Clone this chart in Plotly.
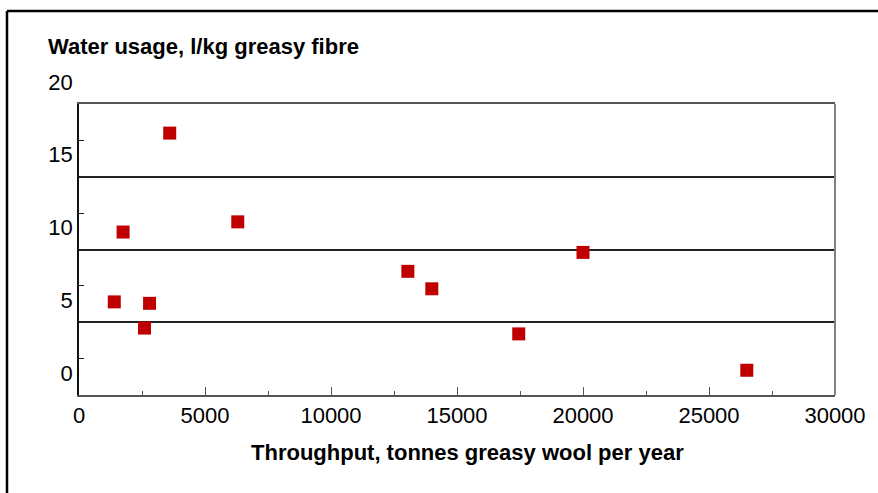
import plotly.graph_objects as go

# Wool scouring plants: annual throughput vs. water usage
throughput = [1400, 1750, 2600, 2800, 3600, 6300, 13050, 14000, 17450, 20000, 26500]
water_usage = [6.4, 11.2, 4.6, 6.3, 18.0, 11.9, 8.5, 7.3, 4.2, 9.8, 1.7]

x_ticks = [0, 5000, 10000, 15000, 20000, 25000, 30000]
y_ticks = [0, 5, 10, 15, 20]

W, H = 878, 493
L, R, T, B = 79, 43, 104, 98
PW, PH = W - L - R, H - T - B

def px(x):
    return (x - L) / PW

def py(y):
    return (H - B - y) / PH

FONT = "Arial, Liberation Sans, sans-serif"
FS = 22

fig = go.Figure(
    go.Scatter(
        x=throughput,
        y=water_usage,
        mode="markers",
        marker=dict(symbol="square", size=13, color="#C00000", line=dict(width=0)),
        showlegend=False,
    )
)

fig.update_layout(
    width=W,
    height=H,
    margin=dict(l=L, r=R, t=T, b=B),
    paper_bgcolor="white",
    plot_bgcolor="white",
    font=dict(family=FONT, size=FS, color="black"),
)

fig.update_xaxes(
    range=[0, 30000],
    tickvals=x_ticks,
    ticktext=[str(v) for v in x_ticks],
    ticks="inside",
    ticklen=8,
    tickcolor="#555",
    tickwidth=1,
    minor=dict(ticks="inside", ticklen=4, tickcolor="#555", dtick=2500, tick0=2500, showgrid=False),
    showline=True,
    linecolor="#555",
    linewidth=1.5,
    mirror=True,
    showgrid=False,
    zeroline=False,
    tickfont=dict(size=FS),
)

fig.update_yaxes(
    range=[0, 20],
    tickvals=y_ticks,
    ticktext=[str(v) for v in y_ticks],
    ticks="inside",
    ticklen=0,
    minor=dict(ticks="inside", ticklen=5, tickcolor="#222", dtick=2.5, tick0=2.5, showgrid=False),
    ticklabelshift=-22,
    showline=True,
    linecolor="#111",
    linewidth=1.5,
    showgrid=True,
    gridcolor="#222",
    gridwidth=1.5,
    zeroline=False,
    tickfont=dict(size=FS),
)

# right frame of the plot area
fig.add_shape(type="line", xref="paper", yref="paper", x0=1, x1=1, y0=0, y1=1,
              line=dict(color="#808080", width=2))

# outer border of the figure (top and left edges)
fig.add_shape(type="line", xref="paper", yref="paper", x0=px(7), x1=px(W + 5), y0=py(11), y1=py(11),
              line=dict(color="black", width=2.5))
fig.add_shape(type="line", xref="paper", yref="paper", x0=px(7), x1=px(7), y0=py(11), y1=py(H + 5),
              line=dict(color="black", width=2.5))

fig.add_annotation(text="<b>Water usage, l/kg greasy fibre</b>", xref="paper", yref="paper",
                   x=px(46), y=py(46), xanchor="left", yanchor="middle", showarrow=False,
                   font=dict(family=FONT, size=FS, color="black"))
fig.add_annotation(text="<b>Throughput, tonnes greasy wool per year</b>", xref="paper", yref="paper",
                   x=px(467), y=py(452), xanchor="center", yanchor="middle", showarrow=False,
                   font=dict(family=FONT, size=FS, color="black"))

fig.write_html("out.html")
